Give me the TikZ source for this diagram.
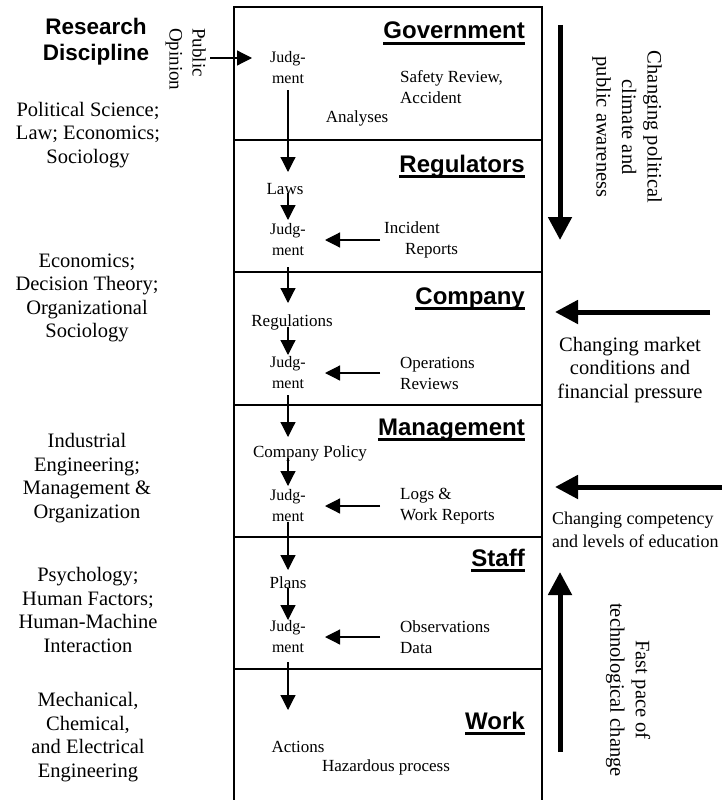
\documentclass[tikz,border=0pt]{standalone}
\usepackage{fontspec}
\setmainfont{Liberation Serif}
\newfontfamily\hdfont{Liberation Sans}
\usetikzlibrary{arrows.meta}
\begin{document}
\begin{tikzpicture}[x=1pt,y=-1pt,
  flow/.style={line width=1.2pt,-{Triangle[length=15pt,width=15pt]}},
  bigarrow/.style={line width=5pt,-{Triangle[length=23pt,width=23pt]}},
  lvl/.style={line width=1.5pt},
  head/.style={font=\hdfont\bfseries\fontsize{24}{28}\selectfont, inner sep=0pt, anchor=base east},
  uline/.style={line width=3pt},
  jd/.style={font=\fontsize{16}{21}\selectfont, align=center, inner sep=0pt},
  lab/.style={font=\fontsize{17}{21}\selectfont, inner sep=0pt},
  side/.style={font=\fontsize{20.5}{23.5}\selectfont, align=center, inner sep=0pt},
  rside/.style={font=\fontsize{20.5}{25.5}\selectfont, align=center, inner sep=0pt, rotate=-90}
]
\fill[white] (0,0) rectangle (722,800);
\useasboundingbox (0,0) rectangle (722,800);

% main box
\draw[lvl] (234,800) -- (234,7) -- (542,7) -- (542,800);
\foreach \yy in {140,272,405,537,669} \draw[lvl] (234,\yy) -- (542,\yy);

% headings
\node[head] (hgov) at (525,39) {Government};
\node[head] (hreg) at (525,172) {Regulators};
\node[head] (hcom) at (525,304) {Company};
\node[head] (hman) at (525,435) {Management};
\node[head] (hsta) at (525,566) {Staff};
\node[head] (hwor) at (525,729) {Work};
\foreach \h in {hgov,hreg,hcom,hman,hsta,hwor}
  \draw[uline] ([yshift=-4.5pt]\h.base west) -- ([yshift=-4.5pt]\h.base east);

% judgments
\node[jd] (j1) at (288,68) {Judg-\\ment};
\node[jd] (j2) at (288,240) {Judg-\\ment};
\node[jd] (j3) at (288,373) {Judg-\\ment};
\node[jd] (j4) at (288,506) {Judg-\\ment};
\node[jd] (j5) at (288,637) {Judg-\\ment};

% inner labels
\node[lab] (laws) at (285,189) {Laws};
\node[lab] (regs) at (292,322) {Regulations};
\node[lab] (cp) at (310,453) {Company Policy};
\node[lab] (plans) at (288,583) {Plans};
\node[lab] (actions) at (298,747) {Actions};
\node[lab] (haz) at (386,767) {Hazardous process};
\node[lab] (analyses) at (357,118) {Analyses};
\node[lab, anchor=west, align=left] (safety) at (400,87.5) {Safety Review,\\Accident};
\node[lab, anchor=west, align=left] (inc) at (384,240) {Incident\\\hspace*{21pt}Reports};
\node[lab, anchor=west, align=left] (ops) at (400,373) {Operations\\Reviews};
\node[lab, anchor=west, align=left] (logs) at (400,506) {Logs \&\\Work Reports};
\node[lab, anchor=west, align=left] (obs) at (400,637) {Observations\\Data};

% vertical flow
\draw[flow, shorten <=22pt, shorten >=17pt] (j1.center) -- (j1.center |- laws.center);
\draw[flow, shorten <=4pt, shorten >=20pt] (j1.center |- laws.center) -- (j2.center);
\draw[flow, shorten <=27pt, shorten >=19pt] (j2.center) -- (j2.center |- regs.center);
\draw[flow, shorten <=5pt, shorten >=18pt] (j2.center |- regs.center) -- (j3.center);
\draw[flow, shorten <=22pt, shorten >=16pt] (j3.center) -- (j3.center |- cp.center);
\draw[flow, shorten <=5pt, shorten >=20pt] (j3.center |- cp.center) -- (j4.center);
\draw[flow, shorten <=16pt, shorten >=13pt] (j4.center) -- (j4.center |- plans.center);
\draw[flow, shorten <=5pt, shorten >=17pt] (j4.center |- plans.center) -- (j5.center);
\draw[flow, shorten <=25pt, shorten >=37pt] (j5.center) -- (j5.center |- actions.center);

% horizontal inputs
\draw[flow, shorten <=4pt, shorten >=37pt] (inc.west |- j2.center) -- (j2.center);
\draw[flow, shorten <=20pt, shorten >=37pt] (ops.west |- j3.center) -- (j3.center);
\draw[flow, shorten <=20pt, shorten >=37pt] (logs.west |- j4.center) -- (j4.center);
\draw[flow, shorten <=20pt, shorten >=37pt] (obs.west |- j5.center) -- (j5.center);

% left column
\node[font=\hdfont\bfseries\fontsize{22.5}{26}\selectfont, align=center, inner sep=0pt] (rd) at (96,42) {Research\\Discipline};
\node[font=\fontsize{19}{23}\selectfont, rotate=-90, anchor=north west, align=left, inner sep=0pt] (po) at (206,28) {Public\\Opinion};
\draw[flow, shorten <=4pt, shorten >=36pt] ([yshift=10pt]j1.center -| po.north) -- ([yshift=10pt]j1.center);

\node[side] (dgov) at (88,135) {Political Science;\\Law; Economics;\\Sociology};
\node[side] (dreg) at (87,298) {Economics;\\Decision Theory;\\Organizational\\Sociology};
\node[side] (dcom) at (87,478) {Industrial\\Engineering;\\Management \&\\Organization};
\node[side] (dsta) at (88,610) {Psychology;\\Human Factors;\\Human-Machine\\Interaction};
\node[side] (dwor) at (88,737) {Mechanical,\\Chemical,\\and Electrical\\Engineering};

% right column
\coordinate (d1) at (560,25); \coordinate (d2) at (560,240);
\draw[bigarrow] (d1) -- (d2);
\node[rside] (pol) at (627,127) {Changing political\\climate and\\public awareness};

\coordinate (m1) at (710,312); \coordinate (m2) at (555,312);
\draw[bigarrow] (m1) -- (m2);
\node[side] (market) at (630,370) {Changing market\\conditions and\\financial pressure};

\coordinate (c1) at (726,487); \coordinate (c2) at (555,487);
\draw[bigarrow] (c1) -- (c2);
\node[side, anchor=west, align=left, font=\fontsize{18}{23.5}\selectfont] (comp) at (552,530) {Changing competency\\and levels of education};

\coordinate (u1) at (560,752); \coordinate (u2) at (560,572);
\draw[bigarrow] (u1) -- (u2);
\node[rside] (tech) at (628,690) {Fast pace of\\technological change};
\end{tikzpicture}
\end{document}
